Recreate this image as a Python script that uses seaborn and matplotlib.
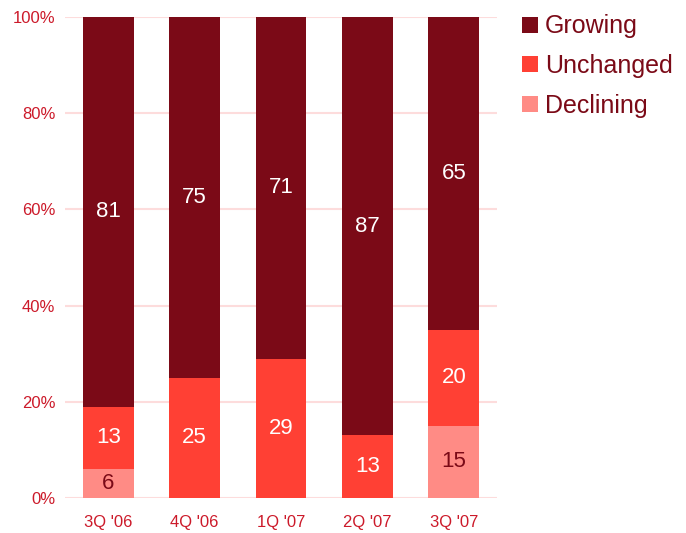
import numpy as np
import pandas as pd
import matplotlib
matplotlib.use("Agg")
import matplotlib.pyplot as plt
from matplotlib.lines import Line2D
import seaborn as sns

quarters = ["3Q '06", "4Q '06", "1Q '07", "2Q '07", "3Q '07"]
declining = [6, 0, 0, 0, 15]
unchanged = [13, 25, 29, 13, 20]
growing = [81, 75, 71, 87, 65]

series_names = ["Growing", "Unchanged", "Declining"]
colors = {"Growing": "#7b0a17", "Unchanged": "#ff4034", "Declining": "#ff8b85"}
label_colors = {"Growing": "white", "Unchanged": "white", "Declining": "#7b0a17"}
tick_color = "#cc1a2a"

sns.set_theme(style="white")
plt.rcParams["font.family"] = ["Liberation Sans", "DejaVu Sans"]

df = pd.DataFrame({"quarter": quarters, "Declining": declining,
                   "Unchanged": unchanged, "Growing": growing})

fig = plt.figure(figsize=(6.86, 5.33), dpi=100)
ax = fig.add_axes([65 / 686, 1 - 498 / 533, 432 / 686, 481 / 533])

bottoms = np.zeros(len(quarters))
for name in ["Declining", "Unchanged", "Growing"]:
    vals = df[name].to_numpy(dtype=float)
    sns.barplot(data=df, x="quarter", y=name, order=quarters, color=colors[name],
                saturation=1, width=0.59, errorbar=None, bottom=bottoms,
                linewidth=0, ax=ax, zorder=3)
    bars = ax.containers[-1]
    labels = [f"{int(v)}" if v > 0 else "" for v in vals]
    ax.bar_label(bars, labels=labels, label_type="center",
                 color=label_colors[name], fontsize=16)
    bottoms = bottoms + vals

ax.set_xlim(-0.5, len(quarters) - 0.5)
ax.set_ylim(0, 100)
ax.set_yticks(np.arange(0, 101, 20))
ax.set_yticklabels([f"{t}%" for t in range(0, 101, 20)])
ax.set_xlabel("")
ax.set_ylabel("")
ax.yaxis.grid(True, color="#fddcdc", linewidth=1.5, zorder=0)
ax.xaxis.grid(False)
ax.set_axisbelow(True)
for s in ax.spines.values():
    s.set_visible(False)
ax.tick_params(axis="y", length=0, pad=7, labelsize=12, labelcolor=tick_color)
ax.tick_params(axis="x", length=0, pad=12, labelsize=12, labelcolor=tick_color)

handles = [Line2D([0], [0], marker="s", linestyle="", markersize=11.5,
                  markerfacecolor=colors[n], markeredgewidth=0) for n in series_names]
leg = fig.legend(handles, series_names, loc="upper left",
                 bbox_to_anchor=(517.5 / 686, 1 - 14.5 / 533), frameon=False,
                 fontsize=18, handletextpad=0.1, labelspacing=0.62,
                 handlelength=1.0, borderpad=0, borderaxespad=0)
for t in leg.get_texts():
    t.set_color("#7b0a17")

fig.savefig("out.png", dpi=100)
